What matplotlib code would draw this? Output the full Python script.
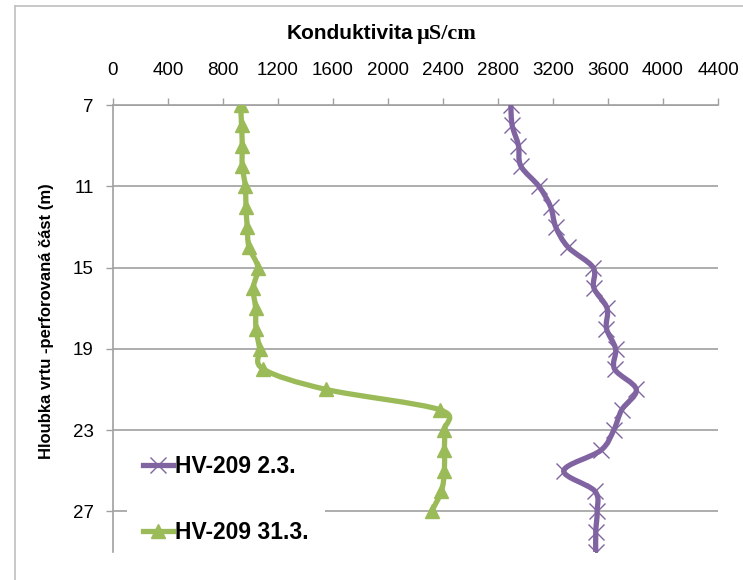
import matplotlib
matplotlib.use('Agg')
import matplotlib.pyplot as plt
from matplotlib.path import Path
from matplotlib.patches import PathPatch
from matplotlib.lines import Line2D

plt.rcParams['font.family'] = ['Liberation Sans', 'DejaVu Sans']

# hloubka (m) a konduktivita (uS/cm)
depth_31 = list(range(7, 28))
cond_31 = [928, 935, 940, 940, 962, 967, 976, 989, 1054, 1020, 1037,
           1040, 1067, 1093, 1550, 2377, 2410, 2410, 2410, 2389, 2317]

depth_2 = list(range(7, 30))
cond_2 = [2893, 2903, 2949, 2966, 3097, 3182, 3220, 3310, 3492, 3497, 3593,
          3589, 3655, 3648, 3806, 3700, 3642, 3547, 3278, 3504, 3521, 3511, 3511]

labels = ['HV-209 2.3.', 'HV-209 31.3.']
xticks = list(range(0, 4401, 400))
yticks = [7, 11, 15, 19, 23, 27]

purple = '#8064A2'
green = '#9BBB59'
grey = '#A0A0A0'


def smooth_path(xs, ys):
    # bezier through the points, like excel's smoothed line
    pts = list(zip(xs, ys))
    n = len(pts)
    verts = [pts[0]]
    codes = [Path.MOVETO]
    for i in range(n - 1):
        p0 = pts[i - 1] if i > 0 else pts[i]
        p1 = pts[i]
        p2 = pts[i + 1]
        p3 = pts[i + 2] if i + 2 < n else pts[i + 1]
        c1 = (p1[0] + (p2[0] - p0[0]) / 6, p1[1] + (p2[1] - p0[1]) / 6)
        c2 = (p2[0] - (p3[0] - p1[0]) / 6, p2[1] - (p3[1] - p1[1]) / 6)
        verts += [c1, c2, p2]
        codes += [Path.CURVE4] * 3
    return Path(verts, codes)


W, H = 743, 580
fig = plt.figure(figsize=(W / 100, H / 100), dpi=100)
ax = fig.add_axes([113 / W, 1 - 552 / H, (718 - 113) / W, (552 - 105) / H])

# chart frame (only top and left edges are in the picture)
fig.add_artist(Line2D([15 / W, 15 / W], [0, 1 - 6 / H], transform=fig.transFigure, color='#BFBFBF', lw=1.2))
fig.add_artist(Line2D([15 / W, 1], [1 - 6 / H, 1 - 6 / H], transform=fig.transFigure, color='#BFBFBF', lw=1.2))

ax.add_patch(PathPatch(smooth_path(cond_2, depth_2), fill=False, edgecolor=purple, lw=3.8,
                       capstyle='round', joinstyle='round', zorder=3))
ax.plot(cond_2, depth_2, linestyle='none', marker='x', ms=11, mew=1, color=purple, zorder=4)

ax.add_patch(PathPatch(smooth_path(cond_31, depth_31), fill=False, edgecolor=green, lw=3.8,
                       capstyle='round', joinstyle='round', zorder=3))
ax.plot(cond_31, depth_31, linestyle='none', marker='^', ms=10.5, mew=1, color=green, zorder=4)

ax.set_xlim(0, 4400)
ax.set_ylim(29, 7)
ax.set_xticks(xticks)
ax.set_yticks(yticks)
ax.xaxis.tick_top()
ax.tick_params(axis='x', direction='out', length=5, width=1, color=grey, pad=13.5, labelsize=13.5)
ax.tick_params(axis='y', direction='out', length=5, width=1, color=grey, pad=9, labelsize=13.5)
ax.grid(axis='y', color=grey, lw=1.2)
ax.set_axisbelow(True)
for side in ['right', 'bottom']:
    ax.spines[side].set_visible(False)
ax.spines['top'].set_color(grey)
ax.spines['left'].set_color(grey)
ax.spines['top'].set_linewidth(1.2)
ax.spines['left'].set_linewidth(1.2)

handles = [Line2D([], [], color=purple, lw=3.8, marker='x', ms=11, mew=1),
           Line2D([], [], color=green, lw=3.8, marker='^', ms=10.5, mew=1)]
leg = ax.legend(handles, labels, loc='center left', bbox_to_anchor=(127 / W, 1 - 499.5 / H),
                bbox_transform=fig.transFigure, borderaxespad=0, numpoints=1,
                prop={'size': 16.5, 'weight': 'bold'}, handlelength=1.3, handletextpad=0.1,
                labelspacing=1.85, borderpad=0.7, fancybox=False, framealpha=1,
                facecolor='white', edgecolor='none')

fig.text(413 / W, 1 - 39.3 / H, 'Konduktivita', ha='right', va='baseline', fontsize=15, fontweight='bold')
fig.text(417 / W, 1 - 39.3 / H, 'µS/cm', ha='left', va='baseline', fontsize=16, fontweight='bold',
         family=['Liberation Serif', 'DejaVu Serif'])
fig.text(47 / W, 1 - 321 / H, 'Hloubka vrtu -perforovaná část (m)', rotation=90, ha='center',
         va='center', fontsize=12, fontweight='bold')

fig.savefig('out.png', dpi=100)
